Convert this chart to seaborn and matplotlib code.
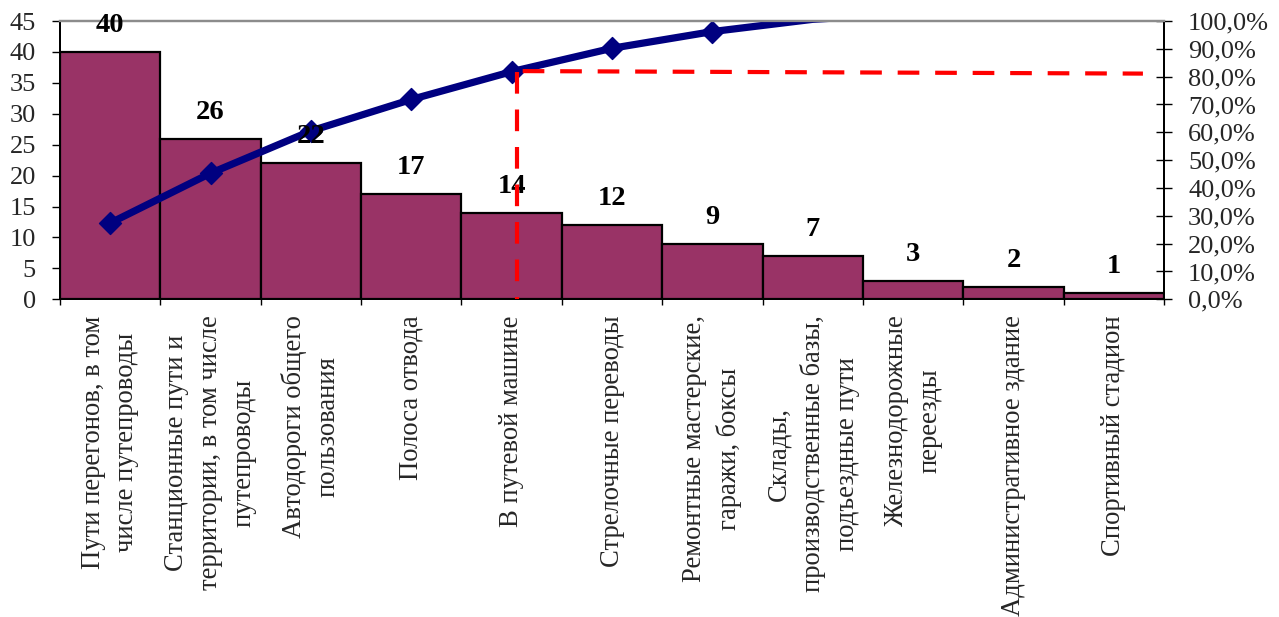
import numpy as np
import pandas as pd
import matplotlib
matplotlib.use("Agg")
import matplotlib.pyplot as plt
from matplotlib.ticker import FuncFormatter
import seaborn as sns

# Categories of sites and number of cases
categories = [
    "Пути перегонов, в том\nчисле путепроводы",
    "Станционные пути и\nтерритории, в том числе\nпутепроводы",
    "Автодороги общего\nпользования",
    "Полоса отвода",
    "В путевой машине",
    "Стрелочные переводы",
    "Ремонтные мастерские,\nгаражи, боксы",
    "Склады,\nпроизводственные базы,\nподъездные пути",
    "Железнодорожные\nпереезды",
    "Административное здание",
    "Спортивный стадион",
]
counts = [40, 26, 22, 17, 14, 12, 9, 7, 3, 2, 1]

# Cumulative share, %
cum_pct = [27.4, 45.3, 60.5, 71.8, 81.8, 90.2, 96.2, 100.6, 102.7, 104.1, 104.8]

# 80 % cut-off guide (category position, percent levels)
cut_x = 4.05
cut_top = 81.8
guide_x = [4.11, 10.29]
guide_pct = [82.0, 81.1]

left_ticks = list(range(0, 50, 5))
right_ticks = list(range(0, 110, 10))

BAR = "#993366"
LINE = "#000080"
RED = "#FF0000"

sns.set_theme(style="ticks")
plt.rcParams["font.family"] = ["Liberation Serif", "DejaVu Serif"]

df = pd.DataFrame({"cat": categories, "n": counts, "pos": np.arange(len(counts)), "cum": cum_pct})

W, H = 1279, 617
fig = plt.figure(figsize=(W / 100, H / 100), dpi=100)
ax = fig.add_axes([60 / W, 1 - 299.3 / H, (1164 - 60) / W, (299.3 - 21) / H])

sns.barplot(data=df, x="cat", y="n", color=BAR, saturation=1, width=1.0,
            edgecolor="black", linewidth=1.6, ax=ax)

n = len(counts)
ax.set_xlim(-0.5, n - 0.5)
ax.set_ylim(0, 45)
ax.set_yticks(left_ticks)
ax.set_xlabel("")
ax.set_ylabel("")

ax.set_xticks(np.arange(n))
ax.set_xticklabels(categories, rotation=90, ha="center", va="top",
                   multialignment="center", linespacing=1.45, fontsize=19.2)
ax.set_xticks(np.arange(-0.5, n), minor=True)
ax.tick_params(axis="x", which="major", length=0, pad=11.5, bottom=True)
ax.tick_params(axis="x", which="minor", length=4.5, width=1, direction="out",
               color="black", bottom=True)
ax.tick_params(axis="y", which="major", length=5.8, width=1, direction="out",
               pad=11.5, labelsize=19, left=True, color="black")

for side in ["left", "bottom", "right"]:
    ax.spines[side].set_visible(True)
    ax.spines[side].set_color("black")
    ax.spines[side].set_linewidth(1.4)
ax.spines["top"].set_visible(True)
ax.spines["top"].set_color("#8c8c8c")
ax.spines["top"].set_linewidth(1.6)

ax2 = ax.twinx()
ax2.set_ylim(0, 100)
ax2.set_yticks(right_ticks)
ax2.yaxis.set_major_formatter(FuncFormatter(lambda v, p: f"{v:.1f}%".replace(".", ",")))
ax2.tick_params(axis="y", which="major", direction="inout", length=11, width=1,
                pad=11.9, labelsize=19, right=True, color="black")
for side in ["left", "bottom", "right"]:
    ax2.spines[side].set_visible(True)
    ax2.spines[side].set_color("black")
    ax2.spines[side].set_linewidth(1.4)
ax2.spines["top"].set_visible(True)
ax2.spines["top"].set_color("#8c8c8c")
ax2.spines["top"].set_linewidth(1.6)

# Cumulative curve; markers only where the point lies inside the scale
sns.lineplot(data=df, x="pos", y="cum", color=LINE, linewidth=5.2, sort=False,
             legend=False, ax=ax2, zorder=2)
inside = df[df["cum"] <= 100]
sns.scatterplot(data=inside, x="pos", y="cum", marker="D", s=125, color=LINE,
                edgecolor=LINE, linewidth=1, legend=False, ax=ax2, zorder=2.5)
ax2.set_xlim(-0.5, n - 0.5)
ax2.set_ylim(0, 100)
ax2.set_xlabel("")
ax2.set_ylabel("")

# Value labels above the bars
for i, v in enumerate(counts):
    ax2.annotate(str(v), xy=(i, v), xycoords=ax.transData, xytext=(0, 19),
                 textcoords="offset points", ha="center", va="center",
                 fontsize=20.5, fontweight="bold", color="black", zorder=4)

# 80 % guide lines
dash = (5.2, 3.8)
ax2.plot([cut_x, cut_x], [cut_top, 0], color=RED, linewidth=3,
         linestyle=(0, dash), zorder=5, clip_on=False)
ax2.plot(guide_x, guide_pct, color=RED, linewidth=3,
         linestyle=(0, dash), zorder=5)

fig.savefig("out.png", dpi=100)
